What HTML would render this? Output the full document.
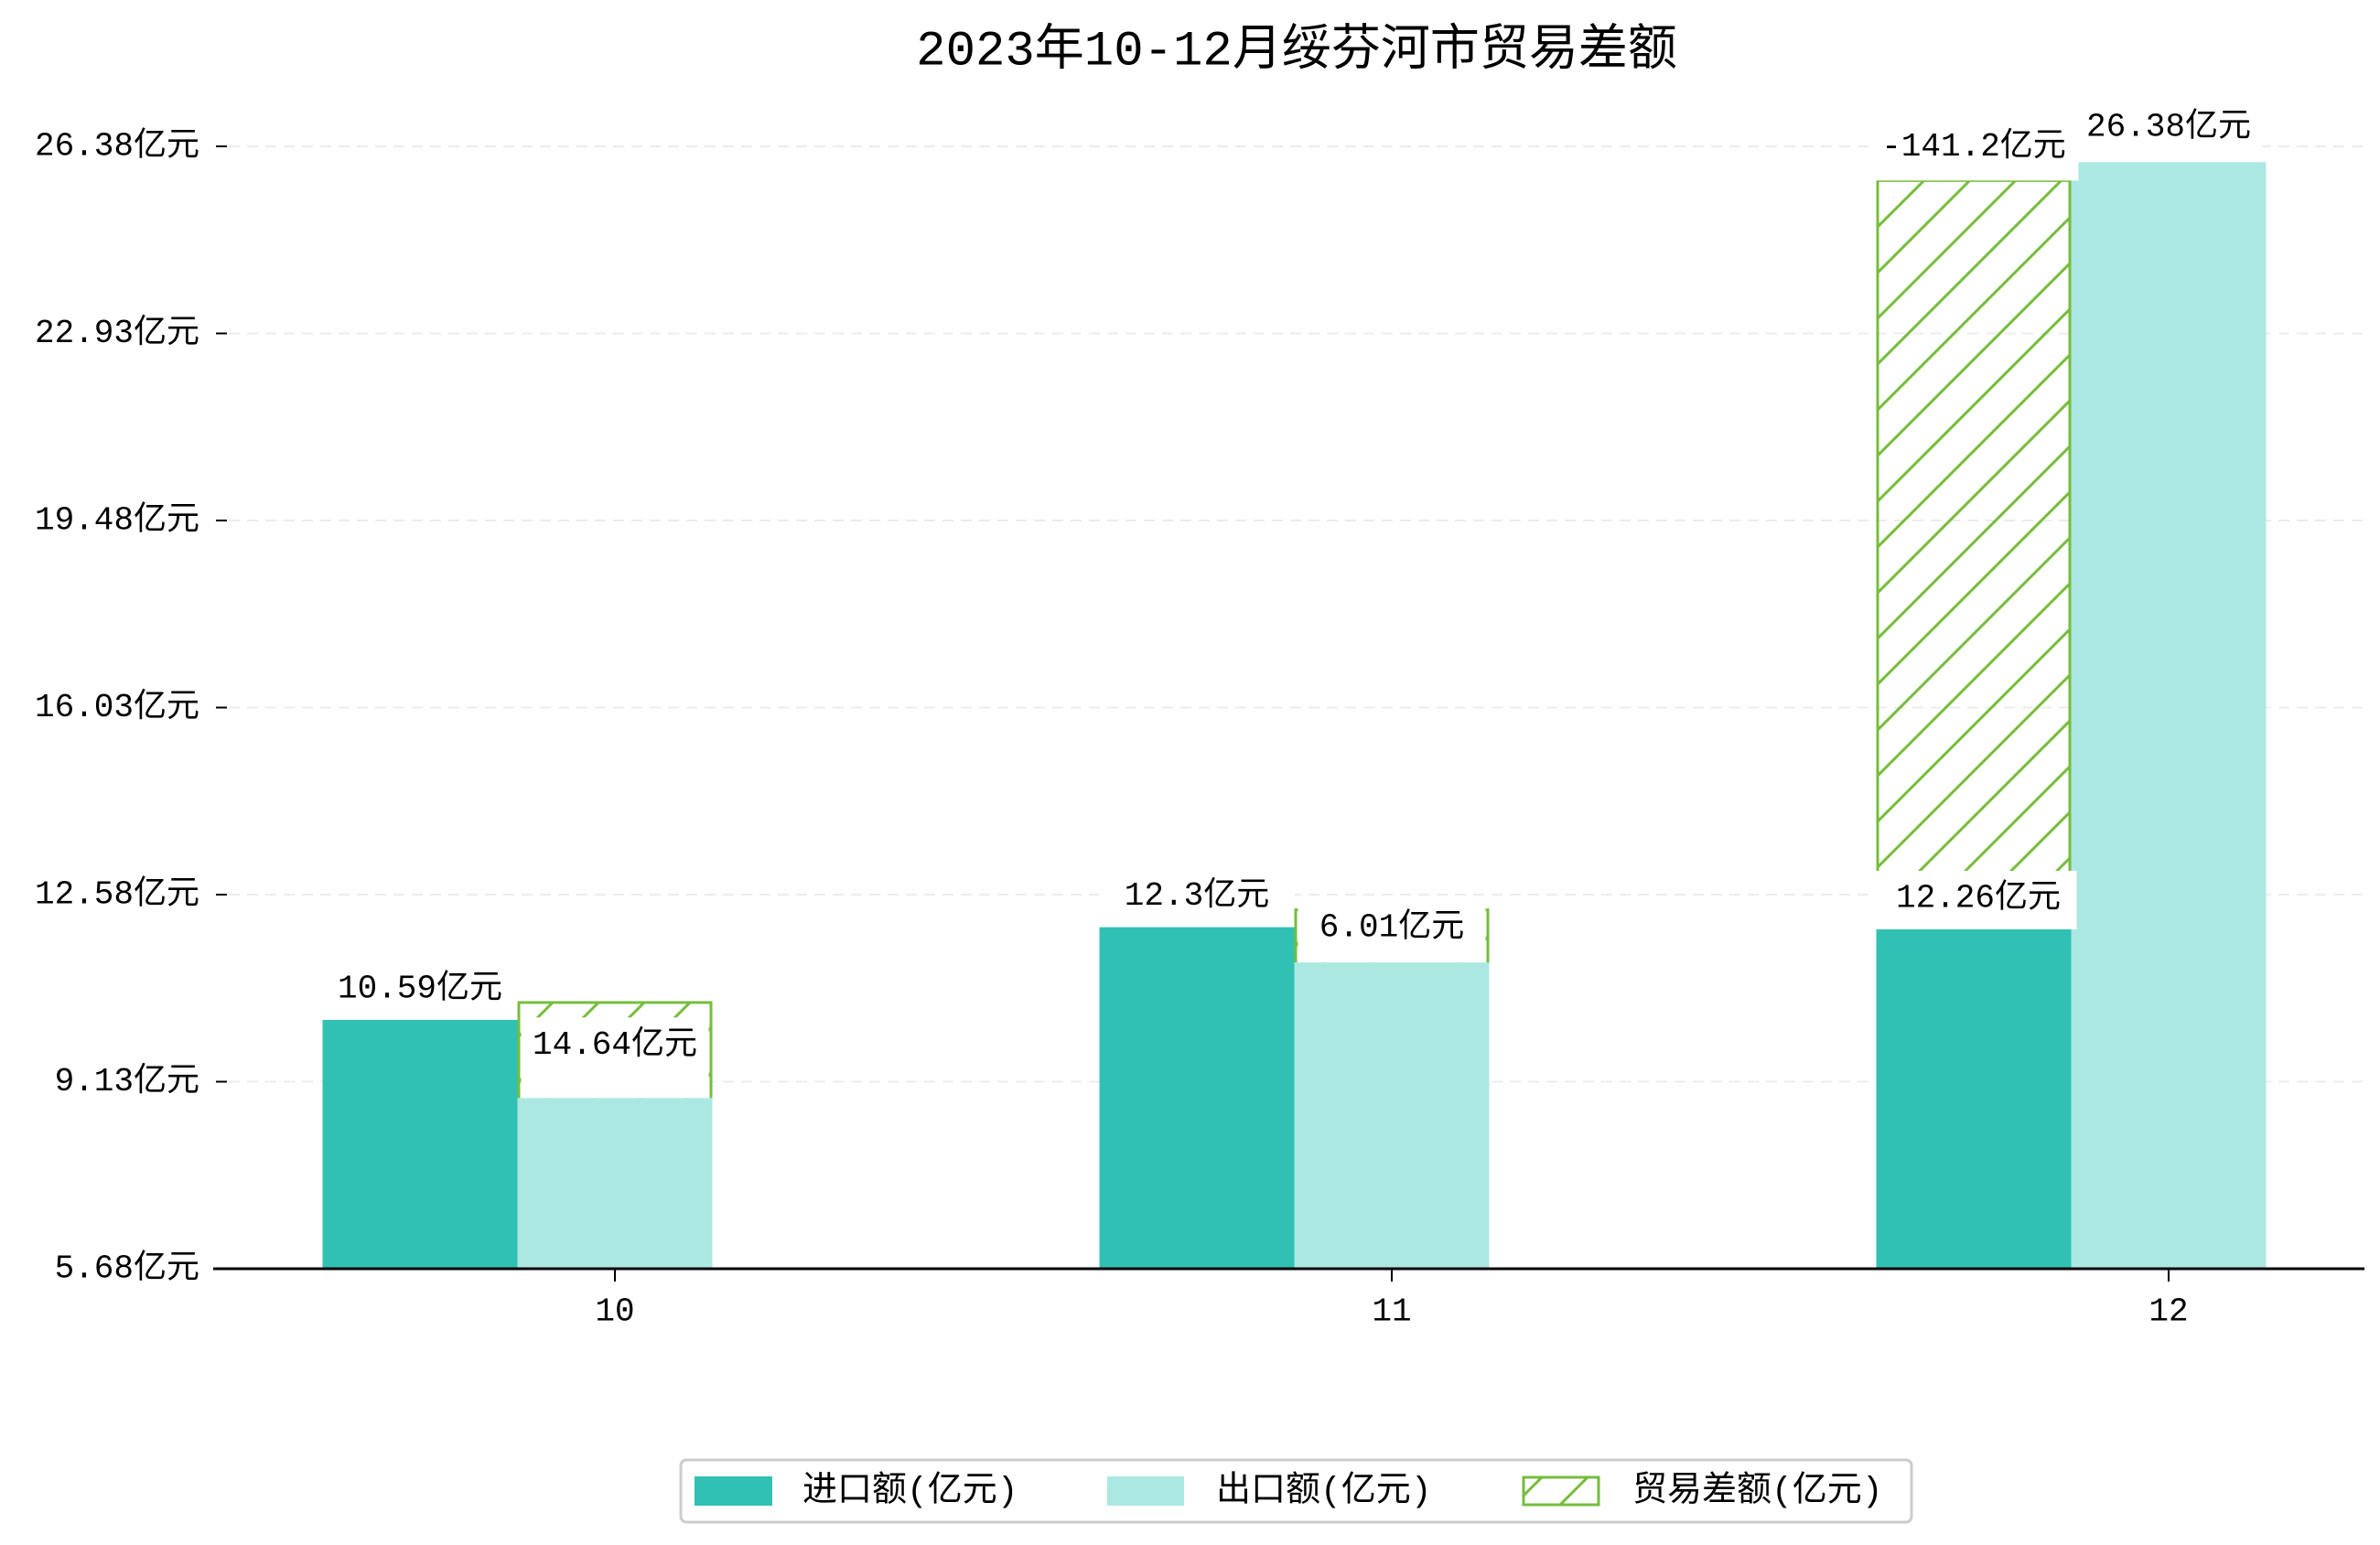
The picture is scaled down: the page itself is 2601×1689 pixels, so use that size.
<!DOCTYPE html>
<html><head><meta charset="utf-8">
<style>
html,body{margin:0;padding:0;background:#fff;}
svg{display:block;}
text{font-family:"Liberation Mono","Noto Sans CJK SC",monospace;fill:#000;}
</style></head>
<body>
<svg id="chart" width="2601" height="1689" viewBox="0 0 2601 1689" xmlns="http://www.w3.org/2000/svg">
<defs>
<pattern id="hatch" patternUnits="userSpaceOnUse" width="50" height="50">
<path d="M-5,5 L5,-5 M0,50 L50,0 M45,55 L55,45" stroke="#76bd3c" stroke-width="3"/>
</pattern>
</defs>
<text x="1417" y="57" font-size="54" text-anchor="middle" dominant-baseline="central">2023年10-12月绥芬河市贸易差额</text>
<g id="grid"></g>
<g id="bars"></g>
<g id="labels"></g>
<g id="axes"></g>
<g>
<rect x="744" y="1596" width="1345" height="68" rx="6" fill="#fff" stroke="#cccccc" stroke-width="3"/>
<rect x="759" y="1614" width="85" height="32" fill="#30c1b4"/>
<text x="877" y="1631" font-size="38" dominant-baseline="central">进口额(亿元)</text>
<rect x="1210" y="1614" width="84" height="32" fill="#abe8e2"/>
<text x="1329" y="1631" font-size="38" dominant-baseline="central">出口额(亿元)</text>
<rect x="1665" y="1615" width="82" height="30" fill="url(#hatch)" stroke="#76bd3c" stroke-width="3"/>
<text x="1784" y="1631" font-size="38" dominant-baseline="central">贸易差额(亿元)</text>
</g>
</svg>
<script>
const categories = ['10', '11', '12'];
const imports = [10.59, 12.3, 12.26];
const exports = [8.83, 11.33, 26.09];
const balanceTop = [10.59, 12.3, 25.75];
const balanceSlot = [1, 1, 0];
const importLabels = ['10.59亿元', '12.3亿元', '12.26亿元'];
const exportLabels = ['14.64亿元', '6.01亿元', '26.38亿元'];
const balanceLabels = ['', '', '-141.2亿元'];
const yTicks = [5.68, 9.13, 12.58, 16.03, 19.48, 22.93, 26.38];
const yTickLabels = ['5.68亿元', '9.13亿元', '12.58亿元', '16.03亿元', '19.48亿元', '22.93亿元', '26.38亿元'];

const NS = 'http://www.w3.org/2000/svg';
const X0 = 233, X1 = 2584, Y0 = 1387, YMIN = 5.68, YMAX = 26.38, YTOP = 160;
const BW = 213;
function y(v) { return Y0 - (v - YMIN) / (YMAX - YMIN) * (Y0 - YTOP); }
function xc(i) { return 672 + i * 849; }
function slotX(i, s) { return xc(i) - 1.5 * BW + s * BW; }
function mk(tag, attrs, parent) {
  const e = document.createElementNS(NS, tag);
  for (const k in attrs) e.setAttribute(k, attrs[k]);
  parent.appendChild(e);
  return e;
}
const grid = document.getElementById('grid');
const bars = document.getElementById('bars');
const labels = document.getElementById('labels');
const axes = document.getElementById('axes');

yTicks.forEach((t, i) => {
  if (i > 0) {
    const g = mk('line', {x1: 250, x2: X1, y1: y(t), y2: y(t), stroke: '#ececec', 'stroke-width': 2, 'stroke-dasharray': '12,8'}, grid);
    
    
  }
  const tk = mk('line', {x1: 236, x2: 248, y1: y(t), y2: y(t), stroke: '#000', 'stroke-width': 2}, axes);
  
  
  const tl = mk('text', {x: 218, y: y(t), 'font-size': 36, 'text-anchor': 'end', 'dominant-baseline': 'central'}, axes);
  tl.textContent = yTickLabels[i];
  
  
});

categories.forEach((c, i) => {
  const bx = slotX(i, balanceSlot[i]);
  const hb = mk('rect', {x: bx + 1.5, y: y(balanceTop[i]), width: BW - 3, height: Y0 - y(balanceTop[i]), fill: 'url(#hatch)', stroke: '#76bd3c', 'stroke-width': 3}, bars);
  
  
  const ib = mk('rect', {x: slotX(i, 0), y: y(imports[i]), width: BW, height: Y0 - y(imports[i]), fill: '#30c1b4'}, bars);
  
  
  const eb = mk('rect', {x: slotX(i, 1), y: y(exports[i]), width: BW, height: Y0 - y(exports[i]), fill: '#abe8e2'}, bars);
  
  

  const iy = y(imports[i]);
  const ibx = mk('rect', {x: slotX(i, 0), y: iy - 45, width: BW + (i === 2 ? 6 : 0), height: 64, fill: '#fff'}, labels);
  
  
  const it = mk('text', {x: xc(i) - BW + (i === 2 ? 5 : 0), y: iy - 15, 'font-size': 36, 'text-anchor': 'middle', 'dominant-baseline': 'central'}, labels);
  it.textContent = importLabels[i];
  
  

  const ey = y(exports[i]);
  const bh = i === 0 ? 88 : 68;
  const ebx = mk('rect', {x: slotX(i, 1) + 4, y: ey - bh, width: BW - 8, height: bh, fill: '#fff'}, labels);
  
  
  const et = mk('text', {x: xc(i), y: ey - (i === 0 ? 58 : 38), 'font-size': 36, 'text-anchor': 'middle', 'dominant-baseline': 'central'}, labels);
  et.textContent = exportLabels[i];
  
  

  if (balanceLabels[i]) {
    const by = y(balanceTop[i]);
    const bbx = mk('rect', {x: bx, y: by - 64, width: BW + 8, height: 64, fill: '#fff'}, labels);
    
    
    const bt = mk('text', {x: bx + BW / 2, y: by - 37, 'font-size': 36, 'text-anchor': 'middle', 'dominant-baseline': 'central'}, labels);
    bt.textContent = balanceLabels[i];
    
    
  }

  const xt = mk('line', {x1: xc(i), x2: xc(i), y1: Y0, y2: Y0 + 14, stroke: '#000', 'stroke-width': 2}, axes);
  
  
  const xl = mk('text', {x: xc(i), y: Y0 + 47, 'font-size': 36, 'text-anchor': 'middle', 'dominant-baseline': 'central'}, axes);
  xl.textContent = c;
  
  
});

const sp = mk('line', {x1: X0, x2: X1, y1: Y0, y2: Y0, stroke: '#000', 'stroke-width': 3}, axes);


</script>
</body></html>
